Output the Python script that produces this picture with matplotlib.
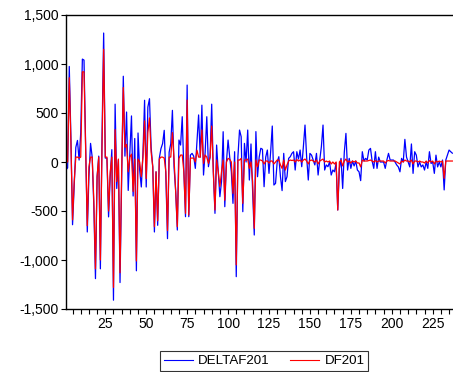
import matplotlib
matplotlib.use("Agg")
import matplotlib.pyplot as plt
from matplotlib.ticker import FixedLocator, FuncFormatter

deltaf201 = [
    -80, -60, 975, 250, -640, -250, 150, 220, 20, 300,
    1050, 1040, 150, -714, -150, 190, 50, -450, -1190, -150,
    60, -1090, 250, 1316, 40, 40, -560, -150, 126, -1410,
    590, -270, 20, -1230, -150, 875, 60, 510, -290, 90,
    470, -347, 240, -1110, 296, -80, -255, 80, 630, -255,
    560, 646, 150, -50, -714, -100, -646, 40, 136, 187,
    323, -150, -782, 100, 187, 527, -50, -300, -694, 224,
    173, 462, -100, -558, 785, -558, 71, 88, 60, -65,
    200, 480, 50, 580, -133, 100, 462, -48, 50, 590,
    -100, -524, 173, -100, -354, -200, 309, -456, 0, 224,
    50, -100, -422, 105, -1170, 50, 326, 258, -507, 190,
    0, 326, -184, 184, -300, -745, 310, -150, 50, 140,
    130, -252, 50, 122, -116, 102, 367, -235, -218, 0,
    54, -150, -292, 88, -200, -150, 37, 54, 88, 105,
    -82, 105, 30, 122, -48, 156, 377, 50, -184, 88,
    70, 20, -30, 88, -133, 20, 156, 377, -82, -30,
    -48, 0, -133, -82, -100, -10, -490, -65, 37, -270,
    100, 292, -82, 37, -65, 10, -40, 10, -82, -100,
    -190, 105, 10, 37, 20, 122, 139, 10, -65, 105,
    -65, 50, 0, 0, 0, -65, 20, 88, 20, 20,
    20, 0, -30, -50, -100, 37, 0, 231, 50, 0,
    -50, 184, -116, 105, 70, -50, 0, -50, -30, -82,
    0, -65, 105, -15, 0, -116, 70, -50, 0, -50,
    20, -285, 20, 71, 122, 105, 90,
]

df201 = [
    0, 0, 860, 200, -590, -200, 50, 50, 40, 50,
    920, 920, 150, -650, -50, 50, 50, -400, -1090, -150,
    50, -1000, 150, 1150, 50, 50, -500, -100, 50, -1280,
    330, -200, 30, -1130, -100, 760, 150, 180, -100, 50,
    80, -300, 30, -1010, 30, 0, -150, 50, 420, -170,
    300, 450, 100, -50, -660, -100, -600, 30, 50, 50,
    40, -100, -700, 50, 50, 300, 30, -300, -660, 37,
    71, 71, -100, -524, 632, -541, 40, 40, 40, 0,
    120, 50, 50, 326, -14, 71, 50, -14, 50, 367,
    -100, -490, 20, -100, -250, -100, 20, -390, 0, 37,
    27, 0, -320, 0, -1050, 20, 20, 37, -422, 20,
    20, 30, -65, 0, -200, -677, 20, -48, 20, 20,
    10, -20, 10, 10, -10, 10, 10, -20, 0, 20,
    20, -30, -65, 20, -82, -30, 10, 20, 15, 20,
    0, 25, 10, 20, 0, 20, 30, 10, -20, 15,
    20, 10, 0, 20, -20, 10, 20, 30, 0, 10,
    0, 10, -20, 0, -20, 0, -490, 0, 20, -40,
    10, 30, 0, 10, -10, 10, 0, 10, -10, -10,
    -50, 20, 10, 10, 10, 15, 20, 10, 0, 15,
    0, 10, 10, 10, 10, -10, 10, 15, 10, 10,
    10, 10, 0, -10, -20, 10, 0, 20, 10, 10,
    0, 20, -20, 10, 10, 0, 10, 0, 0, -10,
    10, -10, 15, 0, 10, -20, 10, 0, 10, 0,
    10, -167, 10, 10, 10, 10, 10,
]

x_major = [25, 50, 75, 100, 125, 150, 175, 200, 225]
y_ticks = [-1500, -1000, -500, 0, 500, 1000, 1500]
series_names = ["DELTAF201", "DF201"]

plt.rcParams['font.family'] = ['Liberation Sans', 'DejaVu Sans']

fig = plt.figure(figsize=(4.53, 3.72), dpi=100)
ax = fig.add_axes([66/453, 1-309/372, (453-66)/453, (309-15)/372])

obs = list(range(1, len(deltaf201) + 1))
ax.plot(obs, deltaf201, color='#0000ff', lw=0.9, label=series_names[0])
ax.plot(obs[:len(df201)], df201, color='#ff0000', lw=0.9, label=series_names[1])

ax.set_xlim(1, 237.4)
ax.set_ylim(-1500, 1500)

ax.xaxis.set_major_locator(FixedLocator(x_major))
ax.xaxis.set_minor_locator(FixedLocator([v for v in range(5, 237, 5) if v % 25 != 0]))
ax.yaxis.set_major_locator(FixedLocator(y_ticks))
ax.yaxis.set_major_formatter(FuncFormatter(lambda v, p: f"{int(v):,}".replace("\u2212", "-")))

ax.tick_params(axis='both', which='both', direction='out', length=3.5, width=0.8,
               labelsize=10, colors='black')
ax.tick_params(axis='x', which='both', top=False, pad=2)
ax.tick_params(axis='y', which='both', right=False, pad=2)

for s in ['left', 'bottom', 'top']:
    ax.spines[s].set_linewidth(1.0)
    ax.spines[s].set_color('black')
ax.spines['right'].set_visible(False)

leg = fig.legend(loc='center', bbox_to_anchor=(264/453, 1-361/372), ncol=2,
                 fontsize=9.6, frameon=True, fancybox=False, edgecolor='black',
                 handlelength=2.2, columnspacing=1.5, handletextpad=0.4,
                 borderpad=0.3)
leg.get_frame().set_linewidth(0.8)
for h in leg.get_lines():
    h.set_linewidth(0.8)

fig.savefig('out.png', dpi=100)
